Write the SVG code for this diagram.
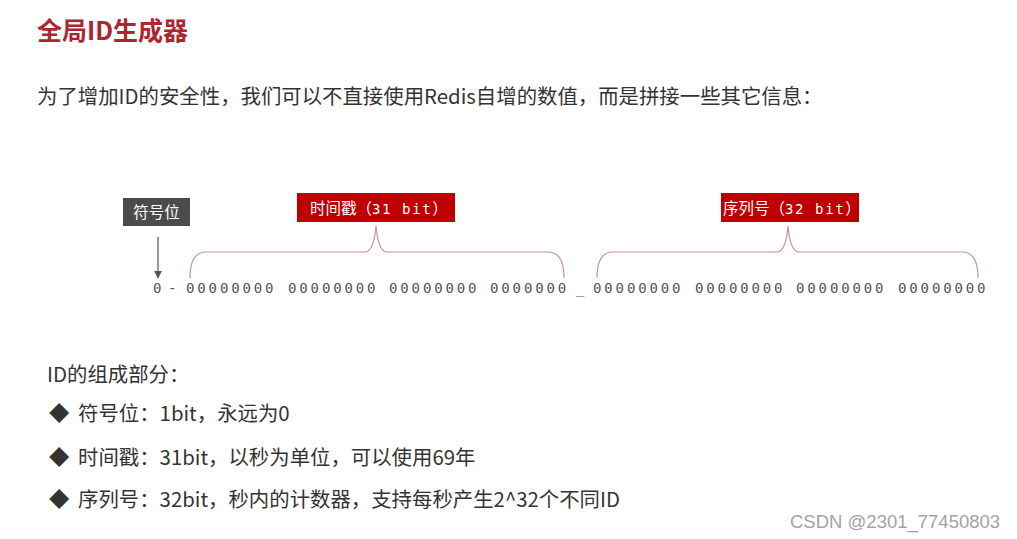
<svg xmlns="http://www.w3.org/2000/svg" width="1017" height="539" viewBox="0 0 1017 539">
<defs>
<style>
.cjk{font-family:"Noto Sans CJK SC","Noto Sans",sans-serif;}
.title{font-size:25px;font-weight:bold;fill:#ad2530;}
.body{font-size:20.4px;fill:#333333;}
.lbl{font-size:15.5px;fill:#ffffff;}
.mono{font-family:"DejaVu Sans Mono","Liberation Mono",monospace;}
.bits{font-size:14px;fill:#555555;letter-spacing:2.87px;}
.brace{fill:none;stroke:#c79393;stroke-width:1.2;}
.wm{font-family:"Liberation Sans",Arial,sans-serif;font-size:18.5px;fill:#a3a3a3;}
</style>
<marker id="arr" viewBox="0 0 10 10" refX="9" refY="5" markerWidth="8" markerHeight="8" markerUnits="userSpaceOnUse" orient="auto">
<path d="M0,0 L10,5 L0,10 Z" fill="#555555"/>
</marker>
</defs>
<rect width="1017" height="539" fill="#ffffff"/>
<text class="cjk title" x="37" y="40">全局ID生成器</text>
<text class="cjk body" x="37" y="104">为了增加ID的安全性，我们可以不直接使用Redis自增的数值，而是拼接一些其它信息：</text>

<g id="sign-label">
<rect x="123" y="198" width="67" height="28" fill="#4b4b4b"/>
<text class="cjk lbl" x="156.5" y="217.5" text-anchor="middle">符号位</text>
</g>
<g id="timestamp-label">
<rect x="297" y="193" width="158" height="29" fill="#bf0000"/>
<text class="cjk lbl" x="310" y="213.5">时间戳（<tspan class="mono" font-size="14" letter-spacing="1.6">31 bit</tspan>）</text>
</g>
<g id="serial-label">
<rect x="721" y="193" width="138" height="29" fill="#bf0000"/>
<text class="cjk lbl" x="723" y="213.5">序列号（<tspan class="mono" font-size="14" letter-spacing="1.6">32 bit</tspan>）</text>
</g>

<g id="bits">
<text class="mono bits" x="153" y="293">0</text>
<text class="mono bits" x="168" y="293">-</text>
<text class="mono bits" x="186" y="293">00000000</text>
<text class="mono bits" x="288" y="293">00000000</text>
<text class="mono bits" x="389" y="293">00000000</text>
<text class="mono bits" x="490" y="293">0000000</text>
<text class="mono bits" x="576" y="293">_</text>
<text class="mono bits" x="593" y="293">00000000</text>
<text class="mono bits" x="695" y="293">00000000</text>
<text class="mono bits" x="796" y="293">00000000</text>
<text class="mono bits" x="898" y="293">00000000</text>
</g>

<g id="connectors">
<line x1="158" y1="237" x2="158" y2="278" stroke="#555555" stroke-width="1.2" marker-end="url(#arr)"/>
<path class="brace" d="M190,278 C190,262 194,252 206,252 L366,252 Q374,250 376,226 Q378,250 386,252 L548,252 C560,252 564,262 564,278"/>
<path class="brace" d="M597,278 C597,262 601,252 613,252 L778,252 Q786,250 788,226 Q790,250 798,252 L962,252 C974,252 978,262 978,278"/>
</g>

<text class="cjk body" x="47" y="382">ID的组成部分：</text>
<text class="cjk body" x="49" y="421" fill="#222">◆</text>
<text class="cjk body" x="78" y="421">符号位：1bit，永远为0</text>
<text class="cjk body" x="49" y="465" fill="#222">◆</text>
<text class="cjk body" x="78" y="465">时间戳：31bit，以秒为单位，可以使用69年</text>
<text class="cjk body" x="49" y="507" fill="#222">◆</text>
<text class="cjk body" x="78" y="507">序列号：32bit，秒内的计数器，支持每秒产生2^32个不同ID</text>

<text class="wm" x="790" y="528">CSDN @2301_77450803</text>
</svg>
